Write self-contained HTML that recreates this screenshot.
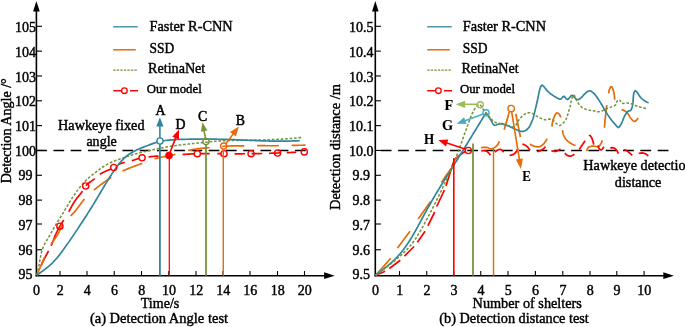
<!DOCTYPE html>
<html><head><meta charset="utf-8"><title>Detection tests</title>
<style>
html,body{margin:0;padding:0;background:#fff;}
body{width:685px;height:327px;overflow:hidden;font-family:"Liberation Serif",serif;}
svg{display:block;will-change:transform;}
svg text{font-family:"Liberation Serif",serif;fill:#000;stroke:#000;stroke-width:0.42px;}
</style></head><body>
<svg width="685" height="327" viewBox="0 0 685 327">
<rect width="685" height="327" fill="#fff"/>
<line x1="36.4" y1="276.34999999999997" x2="36.4" y2="10" stroke="#000" stroke-width="1.6"/>
<polygon points="36.4,1 33.1,11.6 39.699999999999996,11.6" fill="#000"/>
<line x1="35.6" y1="275.65" x2="324.7" y2="275.65" stroke="#000" stroke-width="1.5"/>
<polygon points="334.7,275.65 324.09999999999997,272.25 324.09999999999997,279.04999999999995" fill="#000"/>
<line x1="36.4" y1="26.3" x2="42.0" y2="26.3" stroke="#000" stroke-width="1.1"/>
<text x="25.6" y="32.2" font-size="14.0" text-anchor="middle" >105</text>
<line x1="36.4" y1="51.13" x2="42.0" y2="51.13" stroke="#000" stroke-width="1.1"/>
<text x="25.6" y="56.9" font-size="14.0" text-anchor="middle" >104</text>
<line x1="36.4" y1="75.96" x2="42.0" y2="75.96" stroke="#000" stroke-width="1.1"/>
<text x="25.6" y="81.6" font-size="14.0" text-anchor="middle" >103</text>
<line x1="36.4" y1="100.79" x2="42.0" y2="100.79" stroke="#000" stroke-width="1.1"/>
<text x="25.6" y="106.3" font-size="14.0" text-anchor="middle" >102</text>
<line x1="36.4" y1="125.62" x2="42.0" y2="125.62" stroke="#000" stroke-width="1.1"/>
<text x="25.6" y="131.0" font-size="14.0" text-anchor="middle" >101</text>
<line x1="36.4" y1="150.45" x2="42.0" y2="150.45" stroke="#000" stroke-width="1.1"/>
<text x="25.6" y="155.7" font-size="14.0" text-anchor="middle" >100</text>
<line x1="36.4" y1="175.28" x2="42.0" y2="175.28" stroke="#000" stroke-width="1.1"/>
<text x="25.6" y="180.4" font-size="14.0" text-anchor="middle" >99</text>
<line x1="36.4" y1="200.11" x2="42.0" y2="200.11" stroke="#000" stroke-width="1.1"/>
<text x="25.6" y="205.1" font-size="14.0" text-anchor="middle" >98</text>
<line x1="36.4" y1="224.0" x2="42.0" y2="224.0" stroke="#000" stroke-width="1.1"/>
<text x="25.6" y="229.8" font-size="14.0" text-anchor="middle" >97</text>
<line x1="36.4" y1="249.77" x2="42.0" y2="249.77" stroke="#000" stroke-width="1.1"/>
<text x="25.6" y="254.5" font-size="14.0" text-anchor="middle" >96</text>
<text x="25.6" y="279.2" font-size="14.0" text-anchor="middle" >95</text>
<text x="36.6" y="294.9" font-size="14.0" text-anchor="middle" >0</text>
<line x1="60" y1="275.65" x2="60" y2="271.04999999999995" stroke="#000" stroke-width="1.1"/>
<text x="60.2" y="294.9" font-size="14.0" text-anchor="middle" >2</text>
<line x1="87" y1="275.65" x2="87" y2="271.04999999999995" stroke="#000" stroke-width="1.1"/>
<text x="87.2" y="294.9" font-size="14.0" text-anchor="middle" >4</text>
<line x1="114.25" y1="275.65" x2="114.25" y2="271.04999999999995" stroke="#000" stroke-width="1.1"/>
<text x="114.45" y="294.9" font-size="14.0" text-anchor="middle" >6</text>
<line x1="141.5" y1="275.65" x2="141.5" y2="271.04999999999995" stroke="#000" stroke-width="1.1"/>
<text x="141.7" y="294.9" font-size="14.0" text-anchor="middle" >8</text>
<line x1="168.8" y1="275.65" x2="168.8" y2="271.04999999999995" stroke="#000" stroke-width="1.1"/>
<text x="169.0" y="294.9" font-size="14.0" text-anchor="middle" >10</text>
<line x1="196" y1="275.65" x2="196" y2="271.04999999999995" stroke="#000" stroke-width="1.1"/>
<text x="196.2" y="294.9" font-size="14.0" text-anchor="middle" >12</text>
<line x1="223" y1="275.65" x2="223" y2="271.04999999999995" stroke="#000" stroke-width="1.1"/>
<text x="223.2" y="294.9" font-size="14.0" text-anchor="middle" >14</text>
<line x1="250" y1="275.65" x2="250" y2="271.04999999999995" stroke="#000" stroke-width="1.1"/>
<text x="250.2" y="294.9" font-size="14.0" text-anchor="middle" >16</text>
<line x1="277.5" y1="275.65" x2="277.5" y2="271.04999999999995" stroke="#000" stroke-width="1.1"/>
<text x="277.7" y="294.9" font-size="14.0" text-anchor="middle" >18</text>
<line x1="304.5" y1="275.65" x2="304.5" y2="271.04999999999995" stroke="#000" stroke-width="1.1"/>
<text x="304.7" y="294.9" font-size="14.0" text-anchor="middle" >20</text>
<line x1="375.3" y1="276.34999999999997" x2="375.3" y2="10" stroke="#000" stroke-width="1.6"/>
<polygon points="375.3,1 372.0,11.6 378.6,11.6" fill="#000"/>
<line x1="374.5" y1="275.65" x2="663.9" y2="275.65" stroke="#000" stroke-width="1.5"/>
<polygon points="673.9,275.65 663.3,272.25 663.3,279.04999999999995" fill="#000"/>
<line x1="375.3" y1="26.3" x2="380.90000000000003" y2="26.3" stroke="#000" stroke-width="1.1"/>
<text x="361.3" y="32.2" font-size="14.0" text-anchor="middle" >10.5</text>
<line x1="375.3" y1="51.13" x2="380.90000000000003" y2="51.13" stroke="#000" stroke-width="1.1"/>
<text x="361.3" y="56.9" font-size="14.0" text-anchor="middle" >10.4</text>
<line x1="375.3" y1="75.96" x2="380.90000000000003" y2="75.96" stroke="#000" stroke-width="1.1"/>
<text x="361.3" y="81.6" font-size="14.0" text-anchor="middle" >10.3</text>
<line x1="375.3" y1="100.79" x2="380.90000000000003" y2="100.79" stroke="#000" stroke-width="1.1"/>
<text x="361.3" y="106.3" font-size="14.0" text-anchor="middle" >10.2</text>
<line x1="375.3" y1="125.62" x2="380.90000000000003" y2="125.62" stroke="#000" stroke-width="1.1"/>
<text x="361.3" y="131.0" font-size="14.0" text-anchor="middle" >10.1</text>
<line x1="375.3" y1="150.45" x2="380.90000000000003" y2="150.45" stroke="#000" stroke-width="1.1"/>
<text x="361.3" y="155.7" font-size="14.0" text-anchor="middle" >10.0</text>
<line x1="375.3" y1="175.28" x2="380.90000000000003" y2="175.28" stroke="#000" stroke-width="1.1"/>
<text x="361.3" y="180.4" font-size="14.0" text-anchor="middle" >9.9</text>
<line x1="375.3" y1="200.11" x2="380.90000000000003" y2="200.11" stroke="#000" stroke-width="1.1"/>
<text x="361.3" y="205.1" font-size="14.0" text-anchor="middle" >9.8</text>
<line x1="375.3" y1="224.0" x2="380.90000000000003" y2="224.0" stroke="#000" stroke-width="1.1"/>
<text x="361.3" y="229.8" font-size="14.0" text-anchor="middle" >9.7</text>
<line x1="375.3" y1="249.77" x2="380.90000000000003" y2="249.77" stroke="#000" stroke-width="1.1"/>
<text x="361.3" y="254.5" font-size="14.0" text-anchor="middle" >9.6</text>
<text x="361.3" y="279.2" font-size="14.0" text-anchor="middle" >9.5</text>
<text x="375.5" y="294.9" font-size="14.0" text-anchor="middle" >0</text>
<line x1="399.5" y1="275.65" x2="399.5" y2="271.04999999999995" stroke="#000" stroke-width="1.1"/>
<text x="399.7" y="294.9" font-size="14.0" text-anchor="middle" >1</text>
<line x1="426.75" y1="275.65" x2="426.75" y2="271.04999999999995" stroke="#000" stroke-width="1.1"/>
<text x="426.95" y="294.9" font-size="14.0" text-anchor="middle" >2</text>
<line x1="453.75" y1="275.65" x2="453.75" y2="271.04999999999995" stroke="#000" stroke-width="1.1"/>
<text x="453.95" y="294.9" font-size="14.0" text-anchor="middle" >3</text>
<line x1="480.75" y1="275.65" x2="480.75" y2="271.04999999999995" stroke="#000" stroke-width="1.1"/>
<text x="480.95" y="294.9" font-size="14.0" text-anchor="middle" >4</text>
<line x1="508" y1="275.65" x2="508" y2="271.04999999999995" stroke="#000" stroke-width="1.1"/>
<text x="508.2" y="294.9" font-size="14.0" text-anchor="middle" >5</text>
<line x1="535.4" y1="275.65" x2="535.4" y2="271.04999999999995" stroke="#000" stroke-width="1.1"/>
<text x="535.6" y="294.9" font-size="14.0" text-anchor="middle" >6</text>
<line x1="562.8" y1="275.65" x2="562.8" y2="271.04999999999995" stroke="#000" stroke-width="1.1"/>
<text x="563.0" y="294.9" font-size="14.0" text-anchor="middle" >7</text>
<line x1="590" y1="275.65" x2="590" y2="271.04999999999995" stroke="#000" stroke-width="1.1"/>
<text x="590.2" y="294.9" font-size="14.0" text-anchor="middle" >8</text>
<line x1="616.8" y1="275.65" x2="616.8" y2="271.04999999999995" stroke="#000" stroke-width="1.1"/>
<text x="617.0" y="294.9" font-size="14.0" text-anchor="middle" >9</text>
<line x1="644.1" y1="275.65" x2="644.1" y2="271.04999999999995" stroke="#000" stroke-width="1.1"/>
<text x="644.3000000000001" y="294.9" font-size="14.0" text-anchor="middle" >10</text>
<line x1="36.2" y1="150.45" x2="305.9" y2="150.45" stroke="#000" stroke-width="1.4" stroke-dasharray="10.7 6.55"/>
<line x1="375.3" y1="150.45" x2="668.5" y2="150.45" stroke="#000" stroke-width="1.4" stroke-dasharray="10.8 6.51" stroke-dashoffset="-5.4"/>
<line x1="113.2" y1="26.8" x2="137.8" y2="26.8" stroke="#31859C" stroke-width="1.3"/>
<line x1="113.2" y1="49.8" x2="135.8" y2="49.8" stroke="#E46C0A" stroke-width="1.5"/>
<line x1="113.2" y1="70.1" x2="137.8" y2="70.1" stroke="#77933C" stroke-width="1.4" stroke-dasharray="2.4 1.15"/>
<line x1="113.2" y1="90.7" x2="121.5" y2="90.7" stroke="#FF0000" stroke-width="1.5"/>
<line x1="130.0" y1="90.7" x2="138.0" y2="90.7" stroke="#FF0000" stroke-width="1.5"/>
<circle cx="124.4" cy="90.7" r="2.8" fill="#fff" stroke="#FF0000" stroke-width="1.3"/>
<text x="149.5" y="31.4" font-size="14.3" text-anchor="start" textLength="83.2" lengthAdjust="spacingAndGlyphs" >Faster R-CNN</text>
<text x="149.5" y="52.6" font-size="14.3" text-anchor="start" textLength="24.8" lengthAdjust="spacingAndGlyphs" >SSD</text>
<text x="148.1" y="72.5" font-size="14.3" text-anchor="start" textLength="57.2" lengthAdjust="spacingAndGlyphs" >RetinaNet</text>
<text x="146.7" y="93.0" font-size="12.8" text-anchor="start" textLength="55" lengthAdjust="spacingAndGlyphs" >Our model</text>
<line x1="427.2" y1="26.8" x2="451.8" y2="26.8" stroke="#31859C" stroke-width="1.3"/>
<line x1="427.2" y1="49.8" x2="449.8" y2="49.8" stroke="#E46C0A" stroke-width="1.5"/>
<line x1="427.2" y1="70.1" x2="451.8" y2="70.1" stroke="#77933C" stroke-width="1.4" stroke-dasharray="2.4 1.15"/>
<line x1="427.2" y1="90.7" x2="435.5" y2="90.7" stroke="#FF0000" stroke-width="1.5"/>
<line x1="444.0" y1="90.7" x2="452.0" y2="90.7" stroke="#FF0000" stroke-width="1.5"/>
<circle cx="438.4" cy="90.7" r="2.8" fill="#fff" stroke="#FF0000" stroke-width="1.3"/>
<text x="462.8" y="31.4" font-size="14.3" text-anchor="start" textLength="83.2" lengthAdjust="spacingAndGlyphs" >Faster R-CNN</text>
<text x="462.8" y="52.6" font-size="14.3" text-anchor="start" textLength="24.8" lengthAdjust="spacingAndGlyphs" >SSD</text>
<text x="461.40000000000003" y="72.5" font-size="14.3" text-anchor="start" textLength="57.2" lengthAdjust="spacingAndGlyphs" >RetinaNet</text>
<text x="460.0" y="93.0" font-size="12.8" text-anchor="start" textLength="55" lengthAdjust="spacingAndGlyphs" >Our model</text>
<path d="M36.80,275.20 L37.14,273.73 L37.47,272.26 L37.80,270.78 L38.12,269.31 L38.44,267.83 L38.75,266.36 L39.05,264.88 L39.34,263.39 L39.62,261.91 L39.88,260.42 L40.14,258.92 L40.40,257.43 L40.68,255.95 L40.98,254.47 L41.32,253.00 L41.70,251.54 L42.13,250.09 L42.62,248.66 L43.17,247.26 L43.77,245.87 L44.42,244.50 L45.12,243.16 L45.85,241.84 L46.62,240.54 L47.41,239.25 L48.20,237.96 L48.98,236.67 L49.74,235.37 L50.50,234.06 L51.24,232.74 L51.97,231.42 L52.70,230.10 L53.43,228.78 L54.17,227.46 L54.91,226.14 L55.66,224.84 L56.44,223.54 L57.23,222.25 L58.03,220.98 L58.85,219.71 L59.67,218.44 L60.49,217.17 L61.30,215.90 L62.11,214.62 L62.91,213.34 L63.69,212.05 L64.47,210.76 L65.24,209.46 L66.01,208.16 L66.78,206.86 L67.55,205.56 L68.32,204.26 L69.10,202.97 L69.89,201.68 L70.69,200.40 L71.50,199.13 L72.32,197.86 L73.15,196.59 L73.99,195.34 L74.84,194.09 L75.70,192.85 L76.58,191.62 L77.48,190.40 L78.38,189.19 L79.30,187.99 L80.24,186.81 L81.20,185.63 L82.17,184.47 L83.17,183.33 L84.18,182.21 L85.22,181.11 L86.28,180.04 L87.37,179.00 L88.49,177.98 L89.63,177.00 L90.79,176.04 L91.97,175.10 L93.16,174.17 L94.37,173.26 L95.58,172.35 L96.80,171.45 L98.01,170.54 L99.22,169.64 L100.44,168.74 L101.67,167.85 L102.91,166.99 L104.16,166.16 L105.44,165.36 L106.74,164.60 L108.06,163.89 L109.41,163.21 L110.77,162.57 L112.15,161.96 L113.55,161.38 L114.96,160.82 L116.38,160.28 L117.80,159.76 L119.24,159.25 L120.67,158.75 L122.11,158.26 L123.54,157.77 L124.97,157.28 L126.41,156.80 L127.84,156.33 L129.28,155.86 L130.72,155.40 L132.16,154.95 L133.60,154.51 L135.04,154.08 L136.49,153.66 L137.94,153.26 L139.40,152.87 L140.86,152.49 L142.32,152.13 L143.79,151.77 L145.26,151.43 L146.73,151.09 L148.21,150.76 L149.68,150.43 L151.16,150.11 L152.64,149.80 L154.12,149.49 L155.60,149.17 L157.07,148.86 L158.55,148.56 L160.03,148.25 L161.51,147.96 L163.00,147.66 L164.48,147.38 L165.96,147.10 L167.45,146.83 L168.93,146.58 L170.42,146.33 L171.91,146.10 L173.41,145.88 L174.90,145.67 L176.40,145.47 L177.90,145.27 L179.39,145.09 L180.89,144.91 L182.39,144.74 L183.89,144.57 L185.40,144.40 L186.90,144.24 L188.40,144.07 L189.90,143.91 L191.41,143.75 L192.91,143.58 L194.41,143.42 L195.91,143.25 L197.41,143.09 L198.92,142.93 L200.42,142.77 L201.92,142.61 L203.42,142.45 L204.93,142.30 L206.43,142.15 L207.93,142.00 L209.43,141.86 L210.94,141.72 L212.44,141.59 L213.95,141.46 L215.45,141.34 L216.96,141.23 L218.46,141.12 L219.97,141.02 L221.47,140.93 L222.98,140.85 L224.49,140.77 L225.99,140.70 L227.50,140.64 L229.01,140.59 L230.52,140.54 L232.03,140.50 L233.54,140.46 L235.05,140.42 L236.56,140.39 L238.07,140.37 L239.58,140.34 L241.09,140.32 L242.60,140.30 L244.11,140.28 L245.62,140.26 L247.13,140.24 L248.64,140.22 L250.15,140.20 L251.66,140.17 L253.17,140.15 L254.68,140.12 L256.19,140.09 L257.70,140.06 L259.21,140.03 L260.72,139.99 L262.23,139.95 L263.74,139.91 L265.25,139.86 L266.76,139.81 L268.27,139.76 L269.78,139.70 L271.28,139.65 L272.79,139.58 L274.30,139.52 L275.81,139.44 L277.32,139.37 L278.83,139.29 L280.33,139.20 L281.84,139.12 L283.35,139.02 L284.85,138.92 L286.36,138.82 L287.87,138.71 L289.37,138.59 L290.88,138.47 L292.38,138.34 L293.89,138.20 L295.39,138.06 L296.89,137.91 L298.39,137.76 L299.90,137.61 L301.40,137.46 L302.90,137.30" fill="none" stroke="#77933C" stroke-width="1.55" stroke-linecap="butt" stroke-linejoin="round" stroke-dasharray="2.7 1.75" stroke-dashoffset="0"/>
<path d="M41.12,265.51 L41.29,265.15 L41.46,264.79 L41.64,264.43 L41.81,264.07 L41.99,263.71 L42.16,263.35 L42.33,262.99 L42.51,262.63 L42.68,262.26 L42.86,261.90 L43.04,261.54 L43.21,261.18 L43.39,260.82 L43.57,260.47 L43.74,260.11 L43.92,259.75 L44.10,259.39 L44.28,259.03 L44.46,258.67 L44.64,258.32 L44.83,257.96 L45.01,257.60 L45.19,257.25 L45.38,256.89 L45.56,256.54 L45.75,256.18 L45.93,255.83 L46.12,255.47 L46.30,255.12 L46.49,254.76 L46.68,254.41 L46.87,254.05 L47.05,253.70 L47.24,253.34 L47.43,252.99 L47.62,252.64 L47.81,252.28 L47.99,251.93 L48.18,251.57 L48.37,251.22 L48.56,250.87" fill="none" stroke="#FF0000" stroke-width="1.7"/>
<path d="M51.11,245.87 L51.27,245.50 L51.44,245.14 L51.60,244.77 L51.76,244.40 L51.92,244.04 L52.07,243.67 L52.22,243.30 L52.37,242.92 L52.52,242.55 L52.67,242.18 L52.81,241.80 L52.95,241.43 L53.10,241.05 L53.24,240.68 L53.38,240.30 L53.52,239.93 L53.66,239.55 L53.80,239.18 L53.94,238.80 L54.08,238.43 L54.22,238.05 L54.36,237.67 L54.50,237.30 L54.65,236.93 L54.79,236.55 L54.94,236.18 L55.09,235.81 L55.24,235.44 L55.40,235.07 L55.55,234.70 L55.71,234.33 L55.87,233.96 L56.04,233.60 L56.20,233.23 L56.37,232.87 L56.54,232.50 L56.71,232.14 L56.89,231.78 L57.06,231.42 L57.24,231.06 L57.42,230.70 L57.61,230.35 L57.79,229.99 L57.98,229.63 L58.17,229.28 L58.36,228.93 L58.55,228.57 L58.74,228.22 L58.94,227.87 L59.13,227.52 L59.33,227.17 L59.53,226.83 L59.73,226.48 L59.94,226.13 L60.14,225.79 L60.35,225.45 L60.56,225.10 L60.77,224.76 L60.98,224.42 L61.19,224.08 L61.40,223.74 L61.61,223.40 L61.83,223.06 L62.04,222.72 L62.26,222.38 L62.47,222.05 L62.69,221.71 L62.90,221.37 L63.12,221.03 L63.33,220.69 L63.55,220.36 L63.76,220.02" fill="none" stroke="#FF0000" stroke-width="1.7"/>
<path d="M68.72,211.78 L68.92,211.43 L69.11,211.07 L69.31,210.72 L69.50,210.37 L69.69,210.02 L69.88,209.66 L70.08,209.31 L70.27,208.96 L70.46,208.60 L70.65,208.25 L70.84,207.89 L71.03,207.54 L71.23,207.19 L71.42,206.83 L71.61,206.48 L71.81,206.13 L72.00,205.78 L72.20,205.43 L72.39,205.08 L72.59,204.73 L72.79,204.38 L72.99,204.04 L73.20,203.69 L73.40,203.35 L73.61,203.00 L73.82,202.66 L74.03,202.32 L74.24,201.98 L74.46,201.65 L74.67,201.31 L74.89,200.98 L75.12,200.65 L75.34,200.32 L75.57,199.99 L75.81,199.67 L76.04,199.34 L76.28,199.02 L76.52,198.71 L76.77,198.39 L77.01,198.07 L77.26,197.76 L77.51,197.45 L77.76,197.14 L78.02,196.83 L78.27,196.52 L78.53,196.21 L78.78,195.90 L79.04,195.59 L79.29,195.28 L79.55,194.97 L79.80,194.66 L80.05,194.35 L80.30,194.03 L80.55,193.72 L80.79,193.40 L81.04,193.08 L81.28,192.76 L81.52,192.43 L81.75,192.11 L81.98,191.78 L82.21,191.45 L82.43,191.11" fill="none" stroke="#FF0000" stroke-width="1.7"/>
<path d="M85.92,185.74 L86.17,185.44 L86.44,185.15 L86.71,184.86 L86.99,184.58 L87.28,184.31 L87.57,184.04 L87.87,183.78 L88.17,183.52 L88.48,183.27 L88.79,183.02 L89.11,182.77 L89.43,182.53 L89.75,182.29 L90.07,182.05 L90.40,181.81 L90.73,181.58 L91.06,181.34 L91.39,181.11 L91.73,180.87 L92.06,180.64 L92.39,180.40 L92.72,180.17 L93.05,179.93 L93.38,179.69 L93.71,179.45 L94.03,179.20 L94.35,178.95 L94.67,178.70" fill="none" stroke="#FF0000" stroke-width="1.7"/>
<path d="M99.90,174.33 L100.22,174.11 L100.55,173.89 L100.89,173.67 L101.23,173.47 L101.57,173.26 L101.92,173.07 L102.27,172.88 L102.62,172.69 L102.97,172.51 L103.33,172.33 L103.69,172.15 L104.06,171.98 L104.42,171.81 L104.79,171.65 L105.16,171.48 L105.53,171.32 L105.90,171.16 L106.27,171.00 L106.64,170.84 L107.01,170.68 L107.39,170.53 L107.76,170.37 L108.13,170.21 L108.50,170.05 L108.88,169.89 L109.25,169.73 L109.62,169.57 L109.98,169.41 L110.35,169.24 L110.72,169.07" fill="none" stroke="#FF0000" stroke-width="1.7"/>
<path d="M118.32,164.63 L118.68,164.45 L119.04,164.27 L119.40,164.10 L119.77,163.94 L120.14,163.79 L120.51,163.64 L120.88,163.49 L121.26,163.36 L121.64,163.23 L122.02,163.10 L122.41,162.98 L122.79,162.86 L123.18,162.75 L123.57,162.64 L123.96,162.54 L124.35,162.44 L124.74,162.34" fill="none" stroke="#FF0000" stroke-width="1.7"/>
<path d="M131.77,160.69 L132.15,160.58 L132.53,160.46 L132.91,160.34 L133.29,160.21 L133.67,160.09 L134.05,159.96 L134.43,159.83 L134.81,159.70 L135.19,159.57 L135.57,159.44 L135.95,159.31 L136.33,159.19 L136.72,159.07 L137.10,158.95 L137.48,158.83 L137.87,158.72 L138.25,158.61 L138.64,158.51 L139.03,158.42" fill="none" stroke="#FF0000" stroke-width="1.7"/>
<path d="M148.52,156.88 L148.92,156.84 L149.32,156.79 L149.72,156.75 L150.12,156.71 L150.51,156.67 L150.91,156.63 L151.31,156.59 L151.71,156.55 L152.11,156.51 L152.51,156.48 L152.91,156.44 L153.31,156.41 L153.71,156.37 L154.11,156.34 L154.50,156.31 L154.90,156.28 L155.30,156.24 L155.70,156.21 L156.10,156.18 L156.50,156.16 L156.90,156.13 L157.30,156.10 L157.70,156.07 L158.10,156.04 L158.50,156.02" fill="none" stroke="#FF0000" stroke-width="1.7"/>
<path d="M182.53,154.49 L182.93,154.46 L183.33,154.44 L183.73,154.41 L184.13,154.38 L184.53,154.36 L184.93,154.33 L185.33,154.31 L185.73,154.28 L186.13,154.25 L186.53,154.23 L186.93,154.20 L187.33,154.18 L187.73,154.16 L188.12,154.13 L188.52,154.11 L188.92,154.08 L189.32,154.06 L189.72,154.04 L190.12,154.02 L190.52,154.00 L190.92,153.97 L191.32,153.95 L191.72,153.93 L192.12,153.91 L192.52,153.89 L192.92,153.87 L193.32,153.86 L193.72,153.84 L194.12,153.82" fill="none" stroke="#FF0000" stroke-width="1.7"/>
<path d="M200.93,153.61 L201.33,153.60 L201.73,153.59 L202.13,153.59 L202.53,153.58 L202.93,153.58 L203.33,153.57 L203.73,153.57 L204.13,153.56 L204.53,153.56 L204.93,153.56 L205.34,153.56 L205.74,153.55 L206.14,153.55 L206.54,153.55 L206.94,153.55 L207.34,153.55 L207.74,153.55 L208.14,153.55 L208.54,153.55 L208.94,153.55 L209.34,153.55 L209.74,153.55" fill="none" stroke="#FF0000" stroke-width="1.7"/>
<path d="M217.36,153.62 L217.76,153.62 L218.16,153.63 L218.56,153.63 L218.97,153.64 L219.37,153.64 L219.77,153.65 L220.17,153.65 L220.57,153.66 L220.97,153.66" fill="none" stroke="#FF0000" stroke-width="1.7"/>
<path d="M234.60,153.78 L235.00,153.78 L235.40,153.78 L235.80,153.78 L236.20,153.78 L236.60,153.78 L237.00,153.78 L237.40,153.78 L237.81,153.79 L238.21,153.79 L238.61,153.78 L239.01,153.78 L239.41,153.78 L239.81,153.78 L240.21,153.78 L240.61,153.78 L241.01,153.78 L241.41,153.78 L241.81,153.78 L242.21,153.78 L242.61,153.78 L243.02,153.77 L243.42,153.77 L243.82,153.77 L244.22,153.77 L244.62,153.76 L245.02,153.76" fill="none" stroke="#FF0000" stroke-width="1.7"/>
<path d="M251.43,153.70 L251.83,153.69 L252.23,153.68 L252.63,153.68 L253.03,153.67 L253.43,153.66 L253.83,153.66 L254.23,153.65 L254.64,153.64 L255.04,153.64 L255.44,153.63 L255.84,153.62 L256.24,153.61 L256.64,153.61 L257.04,153.60 L257.44,153.59 L257.84,153.58 L258.24,153.57 L258.64,153.57 L259.04,153.56 L259.44,153.55 L259.84,153.54 L260.24,153.53 L260.65,153.52 L261.05,153.51 L261.45,153.50 L261.85,153.49 L262.25,153.48" fill="none" stroke="#FF0000" stroke-width="1.7"/>
<path d="M269.06,153.29 L269.46,153.28 L269.86,153.26 L270.26,153.25 L270.66,153.24 L271.06,153.23 L271.46,153.21 L271.86,153.20 L272.26,153.19 L272.66,153.17 L273.06,153.16 L273.47,153.15 L273.87,153.13 L274.27,153.12 L274.67,153.10 L275.07,153.09 L275.47,153.08 L275.87,153.06 L276.27,153.05 L276.67,153.03 L277.07,153.02 L277.47,153.00 L277.87,152.99 L278.27,152.98 L278.67,152.96 L279.07,152.95 L279.47,152.93 L279.87,152.92 L280.27,152.90 L280.68,152.89" fill="none" stroke="#FF0000" stroke-width="1.7"/>
<path d="M286.68,152.65 L287.08,152.63 L287.48,152.62 L287.88,152.60 L288.28,152.58 L288.68,152.57 L289.08,152.55 L289.49,152.54 L289.89,152.52 L290.29,152.50 L290.69,152.49 L291.09,152.47 L291.49,152.45 L291.89,152.43 L292.29,152.42 L292.69,152.40 L293.09,152.38 L293.49,152.37 L293.89,152.35 L294.29,152.33 L294.69,152.32 L295.09,152.30 L295.49,152.28 L295.89,152.26 L296.29,152.25" fill="none" stroke="#FF0000" stroke-width="1.7"/>
<path d="M36.80,275.20 L36.96,274.83 L37.11,274.46 L37.27,274.10 L37.43,273.73 L37.58,273.36 L37.74,272.99 L37.90,272.62 L38.06,272.25 L38.21,271.89 L38.37,271.52 L38.53,271.15 L38.68,270.78 L38.84,270.41 L39.00,270.04 L39.16,269.68 L39.31,269.31 L39.47,268.94 L39.63,268.57 L39.79,268.20 L39.94,267.83 L40.10,267.47 L40.26,267.10 L40.42,266.73 L40.57,266.36 L40.73,265.99 L40.89,265.63 L41.05,265.26 L41.21,264.89 L41.37,264.52 L41.52,264.15 L41.68,263.79 L41.84,263.42 L42.00,263.05 L42.16,262.68 L42.32,262.31 L42.48,261.95 L42.64,261.58 L42.80,261.21 L42.95,260.84 L43.11,260.47 L43.27,260.11 L43.43,259.74 L43.59,259.37 L43.75,259.00 L43.92,258.64 L44.08,258.27 L44.24,257.90 L44.40,257.53 L44.56,257.17" fill="none" stroke="#E46C0A" stroke-width="1.7"/>
<path d="M50.91,244.67 L51.12,244.33 L51.34,243.99 L51.56,243.65 L51.78,243.31 L52.00,242.98 L52.22,242.64 L52.44,242.31 L52.67,241.97 L52.89,241.64 L53.12,241.31 L53.35,240.97 L53.58,240.64 L53.81,240.31 L54.03,239.98 L54.26,239.64 L54.49,239.31 L54.72,238.98 L54.94,238.65 L55.17,238.31 L55.40,237.98 L55.62,237.65 L55.84,237.31 L56.07,236.98 L56.29,236.64 L56.50,236.30 L56.72,235.96 L56.94,235.63 L57.15,235.29 L57.36,234.94 L57.56,234.60 L57.77,234.26 L57.97,233.91 L58.17,233.56 L58.36,233.21 L58.56,232.86 L58.75,232.51 L58.93,232.15 L59.11,231.80 L59.29,231.44 L59.46,231.08 L59.63,230.71 L59.79,230.35 L59.95,229.98 L60.10,229.61 L60.25,229.24 L60.40,228.86 L60.53,228.48 L60.67,228.10 L60.79,227.71 L60.92,227.32 L61.04,226.94 L61.16,226.55 L61.27,226.16 L61.40,225.77 L61.52,225.39 L61.65,225.01 L61.79,224.64 L61.94,224.27 L62.10,223.91 L62.27,223.56 L62.45,223.22" fill="none" stroke="#E46C0A" stroke-width="1.7"/>
<path d="M70.44,215.88 L70.76,215.62 L71.06,215.35 L71.37,215.08 L71.67,214.80 L71.97,214.52 L72.26,214.24 L72.55,213.96 L72.83,213.67 L73.11,213.38 L73.39,213.09 L73.67,212.79 L73.94,212.50 L74.21,212.20 L74.48,211.90 L74.74,211.59 L75.00,211.29 L75.26,210.98 L75.52,210.67 L75.77,210.36 L76.02,210.05 L76.27,209.74 L76.52,209.42 L76.77,209.11 L77.01,208.79 L77.26,208.47 L77.50,208.16 L77.74,207.84 L77.98,207.52 L78.22,207.19 L78.46,206.87 L78.70,206.55 L78.94,206.23 L79.17,205.91 L79.41,205.58 L79.65,205.26 L79.88,204.94 L80.12,204.62 L80.36,204.29 L80.60,203.97 L80.83,203.65 L81.07,203.33 L81.31,203.01 L81.55,202.69 L81.79,202.37 L82.04,202.06 L82.28,201.74 L82.52,201.42 L82.77,201.11 L83.02,200.80 L83.27,200.49 L83.52,200.18 L83.77,199.87 L84.03,199.56 L84.29,199.26 L84.55,198.96" fill="none" stroke="#E46C0A" stroke-width="1.7"/>
<path d="M93.87,190.16 L94.18,189.90 L94.49,189.65 L94.80,189.39 L95.11,189.14 L95.42,188.88 L95.73,188.63 L96.05,188.38 L96.36,188.12 L96.67,187.87 L96.99,187.62 L97.30,187.37 L97.61,187.12 L97.93,186.87 L98.24,186.63 L98.56,186.38 L98.88,186.13 L99.19,185.89 L99.51,185.64 L99.83,185.40 L100.15,185.15 L100.47,184.91 L100.79,184.67 L101.11,184.43 L101.43,184.19 L101.75,183.95 L102.07,183.71 L102.39,183.47 L102.71,183.23 L103.04,183.00 L103.36,182.76 L103.69,182.53 L104.01,182.29 L104.34,182.06 L104.66,181.83 L104.99,181.60 L105.32,181.37 L105.64,181.14 L105.97,180.91 L106.30,180.68 L106.63,180.45 L106.96,180.22 L107.29,180.00 L107.62,179.77 L107.95,179.55 L108.29,179.33 L108.62,179.10 L108.95,178.88 L109.29,178.66 L109.62,178.44 L109.96,178.22 L110.30,178.01 L110.63,177.79 L110.97,177.57 L111.31,177.36" fill="none" stroke="#E46C0A" stroke-width="1.7"/>
<path d="M122.50,171.11 L122.86,170.93 L123.22,170.77 L123.59,170.60 L123.95,170.43 L124.32,170.27 L124.68,170.11 L125.05,169.94 L125.41,169.78 L125.78,169.63 L126.15,169.47 L126.52,169.31 L126.89,169.16 L127.26,169.01 L127.63,168.85 L128.00,168.70 L128.37,168.55 L128.74,168.40 L129.11,168.26 L129.48,168.11 L129.85,167.96 L130.23,167.82 L130.60,167.67 L130.98,167.53 L131.35,167.38 L131.72,167.24 L132.10,167.10 L132.47,166.96 L132.85,166.82 L133.22,166.68 L133.60,166.54 L133.98,166.40 L134.35,166.26 L134.73,166.12 L135.10,165.98 L135.48,165.84 L135.86,165.70 L136.23,165.57 L136.61,165.43 L136.99,165.29 L137.36,165.15 L137.74,165.01 L138.12,164.87 L138.49,164.74 L138.87,164.60 L139.25,164.46 L139.62,164.32 L140.00,164.18 L140.38,164.04 L140.75,163.90 L141.13,163.76 L141.51,163.62 L141.88,163.47 L142.26,163.33" fill="none" stroke="#E46C0A" stroke-width="1.7"/>
<path d="M154.68,158.82 L155.07,158.71 L155.45,158.60 L155.84,158.50 L156.22,158.39 L156.61,158.29 L156.99,158.19 L157.38,158.10 L157.77,158.00 L158.16,157.91 L158.55,157.82 L158.94,157.73 L159.33,157.65 L159.72,157.56 L160.11,157.48 L160.50,157.39 L160.90,157.31 L161.29,157.23 L161.68,157.15 L162.07,157.07 L162.47,156.99 L162.86,156.92 L163.25,156.84 L163.65,156.77 L164.04,156.69 L164.44,156.62 L164.83,156.54 L165.22,156.47 L165.62,156.40 L166.01,156.32 L166.41,156.25 L166.80,156.17 L167.20,156.10 L167.59,156.03 L167.99,155.95 L168.38,155.88 L168.78,155.80 L169.17,155.72 L169.56,155.65 L169.96,155.57 L170.35,155.49 L170.74,155.41 L171.14,155.33 L171.53,155.25 L171.92,155.17 L172.32,155.08 L172.71,154.99 L173.10,154.91 L173.49,154.82 L173.88,154.73 L174.27,154.63 L174.66,154.54 L175.05,154.44 L175.44,154.34" fill="none" stroke="#E46C0A" stroke-width="1.7"/>
<path d="M188.12,150.58 L188.50,150.47 L188.89,150.37 L189.28,150.28 L189.67,150.18 L190.05,150.09 L190.44,150.00 L190.83,149.91 L191.22,149.83 L191.61,149.74 L192.00,149.66 L192.40,149.59 L192.79,149.51 L193.18,149.44 L193.57,149.37 L193.97,149.30 L194.36,149.24 L194.76,149.17 L195.15,149.11 L195.55,149.05 L195.94,148.99 L196.34,148.94 L196.74,148.88 L197.13,148.83 L197.53,148.78 L197.93,148.73 L198.33,148.68 L198.72,148.63 L199.12,148.59 L199.52,148.54 L199.92,148.50 L200.32,148.46 L200.72,148.41 L201.12,148.37 L201.52,148.34 L201.92,148.30 L202.32,148.26 L202.72,148.22 L203.12,148.18 L203.52,148.15 L203.92,148.11 L204.32,148.08 L204.72,148.04 L205.12,148.01 L205.52,147.97 L205.92,147.94 L206.32,147.90 L206.72,147.87 L207.13,147.84 L207.53,147.80 L207.93,147.77 L208.33,147.73 L208.73,147.70 L209.13,147.66 L209.53,147.62" fill="none" stroke="#E46C0A" stroke-width="1.7"/>
<path d="M222.29,146.40 L222.69,146.37 L223.09,146.34 L223.49,146.31 L223.89,146.29 L224.29,146.26 L224.69,146.24 L225.09,146.21 L225.49,146.19 L225.88,146.16 L226.28,146.14 L226.68,146.12 L227.08,146.10 L227.48,146.09 L227.88,146.07 L228.28,146.05 L228.68,146.03 L229.08,146.02 L229.48,146.01 L229.88,145.99 L230.28,145.98 L230.68,145.97 L231.09,145.96 L231.49,145.94 L231.89,145.93 L232.29,145.93 L232.69,145.92 L233.09,145.91 L233.49,145.90 L233.89,145.89 L234.29,145.89 L234.69,145.88 L235.09,145.87 L235.49,145.87 L235.89,145.86 L236.29,145.86 L236.70,145.85 L237.10,145.85 L237.50,145.85 L237.90,145.84 L238.30,145.84 L238.70,145.84 L239.10,145.83 L239.50,145.83 L239.90,145.83 L240.30,145.83 L240.70,145.82 L241.11,145.82 L241.51,145.82 L241.91,145.82 L242.31,145.81 L242.71,145.81 L243.11,145.81 L243.51,145.81 L243.91,145.80 L244.31,145.80" fill="none" stroke="#E46C0A" stroke-width="1.7"/>
<path d="M257.13,145.70 L257.53,145.70 L257.93,145.70 L258.33,145.70 L258.73,145.70 L259.13,145.70 L259.54,145.70 L259.94,145.70 L260.34,145.70 L260.74,145.70 L261.14,145.70 L261.54,145.70 L261.94,145.71 L262.34,145.71 L262.74,145.71 L263.14,145.71 L263.54,145.71 L263.94,145.72 L264.34,145.72 L264.74,145.72 L265.14,145.72 L265.54,145.72 L265.95,145.73 L266.35,145.73 L266.75,145.73 L267.15,145.73 L267.55,145.73 L267.95,145.74 L268.35,145.74 L268.75,145.74 L269.15,145.74 L269.55,145.74 L269.95,145.74 L270.35,145.74 L270.75,145.75 L271.15,145.75 L271.55,145.75 L271.95,145.75 L272.36,145.75 L272.76,145.75 L273.16,145.75 L273.56,145.75 L273.96,145.74 L274.36,145.74 L274.76,145.74 L275.16,145.74 L275.56,145.74 L275.96,145.73 L276.36,145.73 L276.76,145.73 L277.16,145.72 L277.56,145.72 L277.96,145.71 L278.36,145.71 L278.76,145.70" fill="none" stroke="#E46C0A" stroke-width="1.7"/>
<path d="M291.58,145.39 L291.98,145.38 L292.38,145.37 L292.78,145.37 L293.18,145.36 L293.58,145.35 L293.98,145.34 L294.38,145.34 L294.78,145.33 L295.18,145.32 L295.59,145.32 L295.99,145.31 L296.39,145.30 L296.79,145.30 L297.19,145.29 L297.59,145.29 L297.99,145.28 L298.39,145.28 L298.79,145.27 L299.19,145.27 L299.59,145.26 L299.99,145.26 L300.39,145.25 L300.79,145.25 L301.19,145.24 L301.59,145.24 L301.99,145.23 L302.40,145.23 L302.80,145.23 L303.20,145.22 L303.60,145.22 L304.00,145.22 L304.40,145.21 L304.80,145.21 L305.20,145.20 L305.60,145.20" fill="none" stroke="#E46C0A" stroke-width="1.7"/>
<path d="M36.80,275.20 L38.04,274.32 L39.29,273.44 L40.52,272.56 L41.76,271.67 L42.98,270.78 L44.20,269.87 L45.40,268.95 L46.59,268.01 L47.76,267.06 L48.92,266.09 L50.05,265.10 L51.17,264.09 L52.26,263.05 L53.32,261.99 L54.36,260.90 L55.38,259.79 L56.38,258.66 L57.36,257.51 L58.33,256.34 L59.28,255.16 L60.21,253.96 L61.13,252.76 L62.04,251.54 L62.94,250.31 L63.83,249.08 L64.71,247.84 L65.59,246.60 L66.46,245.36 L67.33,244.11 L68.20,242.87 L69.06,241.63 L69.92,240.38 L70.78,239.13 L71.63,237.88 L72.48,236.63 L73.33,235.38 L74.18,234.13 L75.02,232.88 L75.86,231.62 L76.70,230.37 L77.54,229.11 L78.37,227.85 L79.21,226.59 L80.04,225.33 L80.87,224.07 L81.70,222.81 L82.52,221.54 L83.35,220.27 L84.17,219.00 L84.99,217.73 L85.81,216.46 L86.62,215.19 L87.44,213.91 L88.24,212.63 L89.05,211.35 L89.86,210.07 L90.66,208.79 L91.46,207.50 L92.25,206.21 L93.04,204.92 L93.83,203.63 L94.61,202.34 L95.40,201.04 L96.17,199.74 L96.95,198.45 L97.73,197.15 L98.50,195.85 L99.27,194.55 L100.05,193.25 L100.82,191.95 L101.59,190.65 L102.37,189.35 L103.14,188.05 L103.92,186.75 L104.69,185.45 L105.47,184.16 L106.26,182.87 L107.04,181.57 L107.83,180.29 L108.62,179.00 L109.42,177.72 L110.23,176.44 L111.04,175.17 L111.86,173.90 L112.69,172.63 L113.53,171.38 L114.39,170.13 L115.26,168.89 L116.15,167.66 L117.05,166.44 L117.97,165.22 L118.91,164.03 L119.87,162.85 L120.86,161.69 L121.88,160.56 L122.92,159.46 L123.99,158.39 L125.10,157.37 L126.25,156.38 L127.43,155.45 L128.65,154.56 L129.91,153.71 L131.19,152.91 L132.50,152.15 L133.84,151.43 L135.19,150.73 L136.56,150.07 L137.94,149.44 L139.32,148.83 L140.72,148.24 L142.12,147.66 L143.52,147.10 L144.93,146.56 L146.34,146.02 L147.76,145.48 L149.17,144.95 L150.59,144.42 L152.02,143.90 L153.44,143.39 L154.88,142.90 L156.32,142.45 L157.77,142.02 L159.23,141.64 L160.70,141.30 L162.18,141.00 L163.68,140.75 L165.17,140.53 L166.68,140.34 L168.18,140.17 L169.69,140.03 L171.20,139.90 L172.71,139.78 L174.22,139.68 L175.73,139.59 L177.24,139.51 L178.75,139.45 L180.26,139.39 L181.77,139.35 L183.28,139.31 L184.79,139.28 L186.31,139.26 L187.82,139.24 L189.33,139.22 L190.85,139.21 L192.36,139.20 L193.87,139.18 L195.38,139.17 L196.90,139.15 L198.41,139.14 L199.92,139.12 L201.43,139.11 L202.94,139.10 L204.46,139.10 L205.97,139.10 L207.48,139.10 L208.99,139.10 L210.51,139.12 L212.02,139.13 L213.53,139.15 L215.04,139.17 L216.56,139.20 L218.07,139.23 L219.58,139.26 L221.09,139.30 L222.60,139.34 L224.12,139.38 L225.63,139.42 L227.14,139.46 L228.65,139.51 L230.16,139.55 L231.67,139.60 L233.19,139.65 L234.70,139.70 L236.21,139.76 L237.72,139.81 L239.23,139.87 L240.74,139.92 L242.25,139.98 L243.77,140.04 L245.28,140.10 L246.79,140.16 L248.30,140.23 L249.81,140.29 L251.32,140.36 L252.83,140.42 L254.34,140.49 L255.86,140.55 L257.37,140.62 L258.88,140.68 L260.39,140.75 L261.90,140.81 L263.41,140.86 L264.93,140.92 L266.44,140.97 L267.95,141.02 L269.46,141.06 L270.97,141.10 L272.49,141.13 L274.00,141.16 L275.51,141.18 L277.02,141.19 L278.53,141.20 L280.05,141.20 L281.56,141.19 L283.07,141.18 L284.58,141.15 L286.09,141.13 L287.60,141.09 L289.12,141.05 L290.63,141.01 L292.14,140.97 L293.65,140.92 L295.16,140.86 L296.68,140.81 L298.19,140.76 L299.70,140.70" fill="none" stroke="#31859C" stroke-width="1.7" stroke-linecap="butt" stroke-linejoin="round"/>
<circle cx="59.9" cy="226.2" r="3.1" fill="none" stroke="#FF0000" stroke-width="1.4"/>
<circle cx="85.7" cy="186" r="3.1" fill="none" stroke="#FF0000" stroke-width="1.4"/>
<circle cx="113.7" cy="167.5" r="3.1" fill="none" stroke="#FF0000" stroke-width="1.4"/>
<circle cx="142.1" cy="157.8" r="3.1" fill="none" stroke="#FF0000" stroke-width="1.4"/>
<circle cx="169.0" cy="155.4" r="3.75" fill="#FF0000"/>
<circle cx="197.3" cy="153.7" r="3.1" fill="none" stroke="#FF0000" stroke-width="1.4"/>
<circle cx="224" cy="153.7" r="3.1" fill="none" stroke="#FF0000" stroke-width="1.4"/>
<circle cx="251.1" cy="153.7" r="3.1" fill="none" stroke="#FF0000" stroke-width="1.4"/>
<circle cx="277.6" cy="153" r="3.1" fill="none" stroke="#FF0000" stroke-width="1.4"/>
<circle cx="304.3" cy="151.9" r="3.1" fill="none" stroke="#FF0000" stroke-width="1.4"/>
<line x1="159.9" y1="144.2" x2="159.9" y2="275.65" stroke="#31859C" stroke-width="1.8"/>
<line x1="169.3" y1="156" x2="169.3" y2="275.65" stroke="#FF0000" stroke-width="1.25"/>
<line x1="206" y1="144.7" x2="206" y2="275.65" stroke="#77933C" stroke-width="1.8"/>
<line x1="223.3" y1="149.2" x2="223.3" y2="275.65" stroke="#E46C0A" stroke-width="1.45"/>
<line x1="159.9" y1="138" x2="159.9" y2="125.5" stroke="#31859C" stroke-width="1.6"/><polygon points="159.9,117.2 163.5,126.5 156.3,126.5" fill="#31859C"/>
<line x1="169.8" y1="153" x2="176.0" y2="137.1" stroke="#FF0000" stroke-width="1.6"/><polygon points="179.0,129.4 179.0,139.4 172.3,136.8" fill="#FF0000"/>
<line x1="205.6" y1="138.6" x2="203.9" y2="130.1" stroke="#77933C" stroke-width="1.6"/><polygon points="202.4,122.2 207.4,130.4 200.9,131.7" fill="#77933C"/>
<line x1="225.8" y1="143.7" x2="233.6" y2="133.5" stroke="#E46C0A" stroke-width="1.6"/><polygon points="238.9,126.5 235.9,136.5 230.0,132.1" fill="#E46C0A"/>
<circle cx="160.0" cy="141.0" r="3.1" fill="#fff" stroke="#31859C" stroke-width="1.4"/>
<circle cx="206" cy="141.6" r="3.1" fill="none" stroke="#77933C" stroke-width="1.4"/>
<circle cx="223.7" cy="146.1" r="3.1" fill="none" stroke="#E46C0A" stroke-width="1.4"/>
<text x="160.6" y="115.1" font-size="13.8" text-anchor="middle" style="stroke-width:0.5px">A</text>
<text x="180.6" y="128.8" font-size="13.8" text-anchor="middle" style="stroke-width:0.5px">D</text>
<text x="202.6" y="120.9" font-size="13.8" text-anchor="middle" style="stroke-width:0.5px">C</text>
<text x="240.3" y="125.3" font-size="13.8" text-anchor="middle" style="stroke-width:0.5px">B</text>
<text x="101.3" y="129.6" font-size="14.2" text-anchor="middle" textLength="86.5" lengthAdjust="spacingAndGlyphs" >Hawkeye fixed</text>
<text x="101.6" y="146.3" font-size="14.2" text-anchor="middle" textLength="30.4" lengthAdjust="spacingAndGlyphs" >angle</text>
<text x="160" y="307.8" font-size="14.2" text-anchor="middle" textLength="38.6" lengthAdjust="spacingAndGlyphs" >Time/s</text>
<text x="159" y="323.4" font-size="14.2" text-anchor="middle" textLength="138.2" lengthAdjust="spacingAndGlyphs" >(a) Detection Angle test</text>
<text transform="translate(11.0,130.8) rotate(-90)" font-size="14.2" text-anchor="middle" textLength="105" lengthAdjust="spacingAndGlyphs">Detection Angle /°</text>
<path d="M375.6,275.2 L385.2,271.3" fill="none" stroke="#FF0000" stroke-width="1.7" stroke-linecap="butt" stroke-linejoin="round"/>
<path d="M389.3,268.5 L400.3,260.2" fill="none" stroke="#FF0000" stroke-width="1.7" stroke-linecap="butt" stroke-linejoin="round"/>
<path d="M404.4,256.1 L414.1,246.5" fill="none" stroke="#FF0000" stroke-width="1.7" stroke-linecap="butt" stroke-linejoin="round"/>
<path d="M417.4,242.3 L425.1,231.3" fill="none" stroke="#FF0000" stroke-width="1.7" stroke-linecap="butt" stroke-linejoin="round"/>
<path d="M427.9,225.8 L434.7,212.0" fill="none" stroke="#FF0000" stroke-width="1.7" stroke-linecap="butt" stroke-linejoin="round"/>
<path d="M436.7,206.5 L444.4,190.0" fill="none" stroke="#FF0000" stroke-width="1.7" stroke-linecap="butt" stroke-linejoin="round"/>
<path d="M446.00,186.00 L446.49,184.43 L446.97,182.86 L447.46,181.29 L447.95,179.72 L448.44,178.16 L448.93,176.59 L449.42,175.02 L449.91,173.46 L450.40,171.89 L450.90,170.32 L451.39,168.76 L451.89,167.19 L452.39,165.63 L452.90,164.06 L453.40,162.50" fill="none" stroke="#FF0000" stroke-width="1.7" stroke-linecap="butt" stroke-linejoin="round"/>
<path d="M455.50,158.50 L456.89,157.31 L458.32,156.16 L459.78,155.06 L461.26,154.01 L462.78,153.01 L464.35,152.10 L466.00,151.30" fill="none" stroke="#FF0000" stroke-width="1.7" stroke-linecap="butt" stroke-linejoin="round"/>
<path d="M375.60,275.20 L376.69,274.00 L377.78,272.80 L378.86,271.60 L379.95,270.40 L381.03,269.20 L382.11,267.99 L383.19,266.79 L384.27,265.58 L385.34,264.37 L386.42,263.16 L387.49,261.95 L388.56,260.73 L389.63,259.52 L390.70,258.30" fill="none" stroke="#E46C0A" stroke-width="1.7" stroke-linecap="butt" stroke-linejoin="round"/>
<path d="M397.5,247.9 L410.0,231.3" fill="none" stroke="#E46C0A" stroke-width="1.7" stroke-linecap="butt" stroke-linejoin="round"/>
<path d="M418.2,218.9 L430.6,201.6" fill="none" stroke="#E46C0A" stroke-width="1.7" stroke-linecap="butt" stroke-linejoin="round"/>
<path d="M441.50,182.50 L442.43,181.07 L443.38,179.65 L444.33,178.23 L445.29,176.82 L446.26,175.42 L447.24,174.03 L448.23,172.64 L449.23,171.25 L450.24,169.87 L451.25,168.50" fill="none" stroke="#E46C0A" stroke-width="1.7" stroke-linecap="butt" stroke-linejoin="round"/>
<path d="M453.0,161.8 L459.0,155.5" fill="none" stroke="#E46C0A" stroke-width="1.7" stroke-linecap="butt" stroke-linejoin="round"/>
<path d="M481.20,147.80 L482.88,147.44 L484.54,147.30 L486.19,147.31 L487.81,147.78 L489.41,148.50 L491.00,148.91 L492.57,148.63 L494.07,147.90 L495.51,146.86 L496.79,145.67 L497.83,144.39 L498.67,142.98 L499.40,141.40" fill="none" stroke="#E46C0A" stroke-width="1.7" stroke-linecap="butt" stroke-linejoin="round"/>
<path d="M504.2,129.7 L509.3,112.0" fill="none" stroke="#E46C0A" stroke-width="1.7" stroke-linecap="butt" stroke-linejoin="round"/>
<path d="M515.8,113.9 L520.4,137.0" fill="none" stroke="#E46C0A" stroke-width="1.7" stroke-linecap="butt" stroke-linejoin="round"/>
<path d="M530.00,144.00 L531.41,144.92 L532.87,145.64 L534.38,146.23 L535.98,146.71 L537.65,146.95 L539.29,146.80 L540.78,146.17 L542.12,145.23 L543.35,144.09 L544.48,142.84 L545.47,141.54 L546.34,140.18 L547.10,138.70" fill="none" stroke="#E46C0A" stroke-width="1.7" stroke-linecap="butt" stroke-linejoin="round"/>
<path d="M551.90,126.70 L552.07,125.02 L552.33,123.38 L552.67,121.78 L553.08,120.20 L553.57,118.62 L554.13,117.03 L554.81,115.44 L555.67,113.96 L556.70,112.80 L558.22,113.24 L559.45,114.57 L560.27,115.95 L560.80,117.60" fill="none" stroke="#E46C0A" stroke-width="1.7" stroke-linecap="butt" stroke-linejoin="round"/>
<path d="M562.60,130.10 L562.76,131.80 L563.05,133.42 L563.51,134.99 L564.15,136.50 L564.97,137.94 L565.94,139.27 L567.06,140.48 L568.31,141.59 L569.62,142.57 L570.98,143.46 L572.41,144.25 L573.92,144.96 L575.50,145.60" fill="none" stroke="#E46C0A" stroke-width="1.7" stroke-linecap="butt" stroke-linejoin="round"/>
<path d="M586.70,151.00 L587.24,149.11 L588.03,147.61 L589.31,146.73 L590.95,146.37 L592.61,146.22 L594.26,146.20 L595.91,146.53 L597.55,146.79 L599.05,146.11 L600.16,144.83 L601.08,143.38 L601.80,141.90 L602.30,140.30" fill="none" stroke="#E46C0A" stroke-width="1.7" stroke-linecap="butt" stroke-linejoin="round"/>
<path d="M604.40,127.70 L604.54,126.09 L604.68,124.48 L604.82,122.87 L604.97,121.26 L605.13,119.65 L605.29,118.04 L605.45,116.43 L605.62,114.83 L605.80,113.22 L605.98,111.61 L606.16,110.01 L606.36,108.40 L606.58,106.80 L606.80,105.20" fill="none" stroke="#E46C0A" stroke-width="1.7" stroke-linecap="butt" stroke-linejoin="round"/>
<path d="M608.70,93.40 L608.88,91.68 L609.23,90.06 L609.80,88.49 L610.69,86.82 L611.73,86.52 L612.53,88.15 L613.13,89.82 L613.60,91.45 L613.97,93.08 L614.24,94.72 L614.43,96.38 L614.55,98.07 L614.60,99.80" fill="none" stroke="#E46C0A" stroke-width="1.7" stroke-linecap="butt" stroke-linejoin="round"/>
<path d="M621.60,109.50 L623.20,110.13 L624.67,110.87 L626.02,111.75 L627.21,112.80 L628.20,114.04 L629.00,115.41 L629.77,116.84 L630.67,118.25 L631.80,119.54 L633.01,120.65 L634.26,121.47 L635.53,121.20 L636.81,119.90 L638.10,118.00" fill="none" stroke="#E46C0A" stroke-width="1.7" stroke-linecap="butt" stroke-linejoin="round"/>
<path d="M375.60,275.20 L376.82,274.28 L378.03,273.37 L379.24,272.45 L380.45,271.52 L381.66,270.60 L382.86,269.66 L384.05,268.72 L385.24,267.77 L386.42,266.81 L387.60,265.84 L388.76,264.86 L389.91,263.87 L391.05,262.86 L392.18,261.84 L393.30,260.80 L394.40,259.75 L395.49,258.68 L396.55,257.60 L397.61,256.49 L398.64,255.38 L399.65,254.24 L400.65,253.09 L401.62,251.92 L402.57,250.74 L403.51,249.54 L404.42,248.32 L405.32,247.09 L406.20,245.85 L407.07,244.59 L407.92,243.33 L408.76,242.06 L409.58,240.77 L410.39,239.48 L411.19,238.18 L411.98,236.88 L412.75,235.57 L413.52,234.26 L414.28,232.94 L415.03,231.62 L415.78,230.29 L416.51,228.96 L417.25,227.63 L417.98,226.29 L418.70,224.95 L419.42,223.61 L420.14,222.27 L420.86,220.93 L421.57,219.59 L422.29,218.25 L423.00,216.90 L423.72,215.56 L424.44,214.22 L425.16,212.88 L425.89,211.55 L426.62,210.21 L427.35,208.88 L428.09,207.55 L428.83,206.22 L429.58,204.89 L430.33,203.57 L431.08,202.25 L431.83,200.93 L432.59,199.61 L433.36,198.29 L434.12,196.98 L434.90,195.67 L435.67,194.36 L436.45,193.05 L437.23,191.75 L438.02,190.44 L438.81,189.14 L439.60,187.85 L440.40,186.55 L441.20,185.25 L442.00,183.96 L442.80,182.67 L443.61,181.38 L444.41,180.09 L445.22,178.80 L446.03,177.52 L446.85,176.23 L447.66,174.94 L448.47,173.66 L449.29,172.37 L450.10,171.09 L450.91,169.80 L451.72,168.51 L452.54,167.23 L453.35,165.94 L454.16,164.65 L454.97,163.36 L455.77,162.07 L456.58,160.78 L457.38,159.49 L458.19,158.20 L458.99,156.91 L459.79,155.61 L460.59,154.32 L461.39,153.03 L462.19,151.73 L462.99,150.44 L463.78,149.14 L464.58,147.85 L465.38,146.55 L466.17,145.25 L466.97,143.96 L467.76,142.66 L468.56,141.36 L469.35,140.06 L470.14,138.77 L470.94,137.47 L471.73,136.17 L472.52,134.87 L473.32,133.57 L474.11,132.28 L474.90,130.98 L475.70,129.68 L476.49,128.38 L477.28,127.08 L478.08,125.79 L478.87,124.49 L479.66,123.19 L480.45,121.89 L481.25,120.59 L482.04,119.29 L482.83,117.99 L483.62,116.70 L484.42,115.40 L485.21,114.10 L486.00,112.80" fill="none" stroke="#31859C" stroke-width="1.7" stroke-linecap="butt" stroke-linejoin="round"/>
<path d="M486.00,112.80 L486.86,114.05 L487.70,115.31 L488.54,116.57 L489.37,117.83 L490.21,119.10 L491.04,120.36 L491.83,121.66 L492.47,123.06 L493.24,124.37 L494.42,125.28 L495.93,124.97 L497.45,124.50 L498.92,124.11 L500.40,123.78 L501.88,123.70 L503.36,123.98 L504.82,124.51 L506.26,125.11 L507.67,125.72 L509.05,126.32 L510.43,126.94 L511.80,127.55 L513.18,128.17 L514.55,128.80 L515.93,129.44 L517.30,130.08 L518.70,130.69 L520.17,131.16 L521.66,131.44 L523.12,131.46 L524.54,131.03 L525.92,130.22 L527.23,129.21 L528.34,128.15 L529.26,126.99 L530.01,125.69 L530.66,124.29 L531.29,122.90 L531.87,121.50 L532.42,120.09 L532.93,118.67 L533.39,117.23 L533.80,115.78 L534.17,114.31 L534.52,112.84 L534.87,111.36 L535.22,109.89 L535.57,108.42 L535.91,106.94 L536.25,105.47 L536.59,103.99 L536.93,102.52 L537.27,101.04 L537.60,99.56 L537.92,98.08 L538.23,96.60 L538.53,95.12 L538.83,93.63 L539.14,92.15 L539.45,90.67 L539.81,89.14 L540.31,87.51 L541.00,86.05 L541.88,85.11 L543.04,85.69 L544.20,87.02 L545.17,88.19 L546.11,89.38 L547.07,90.54 L548.13,91.62 L549.26,92.63 L550.43,93.59 L551.63,94.51 L552.86,95.40 L554.12,96.25 L555.41,97.03 L556.72,97.78 L558.05,98.53 L559.54,99.09 L560.79,99.23 L561.91,98.03 L563.02,96.62 L564.15,96.45 L565.28,97.65 L566.41,99.09 L567.54,99.57 L568.69,98.72 L569.85,97.24 L571.02,95.84 L572.18,95.26 L573.29,95.91 L574.33,97.20 L575.37,98.54 L576.47,99.39 L577.99,99.66 L579.36,99.05 L580.60,98.18 L581.75,97.16 L582.77,96.06 L583.73,94.92 L584.77,93.80 L585.95,92.73 L587.22,91.75 L588.53,91.03 L589.87,90.79 L591.29,91.35 L592.65,92.32 L593.82,93.33 L594.84,94.40 L595.74,95.62 L596.62,96.86 L597.49,98.10 L598.35,99.35 L599.18,100.60 L600.00,101.88 L600.80,103.16 L601.58,104.46 L602.34,105.77 L603.10,107.08 L603.86,108.39 L604.62,109.70 L605.39,111.00 L606.18,112.30 L606.99,113.58 L607.81,114.85 L608.65,116.11 L609.50,117.36 L610.38,118.60 L611.27,119.82 L612.19,121.02 L613.15,122.18 L614.15,123.31 L615.18,124.44 L616.24,125.65 L617.34,126.84 L618.43,127.53 L619.47,126.88 L620.43,125.31 L621.28,123.81 L621.97,122.41 L622.54,121.01 L623.05,119.61 L623.57,118.22 L624.18,116.84 L624.89,115.49 L625.66,114.18 L626.48,112.91 L627.35,111.67 L628.64,110.92 L630.26,110.56 L631.30,109.57 L631.83,108.13 L632.23,106.67 L632.52,105.19 L632.77,103.69 L632.97,102.19 L633.10,100.69 L633.19,99.18 L633.27,97.67 L633.38,96.16 L633.56,94.65 L633.82,93.15 L634.34,91.58 L635.29,90.67 L636.51,91.60 L637.56,92.89 L638.43,94.15 L639.22,95.44 L640.04,96.70 L640.98,97.87 L642.08,98.92 L643.26,99.88 L644.50,100.74 L645.81,101.52 L647.17,102.18 L648.60,102.70" fill="none" stroke="#31859C" stroke-width="1.7" stroke-linecap="butt" stroke-linejoin="round"/>
<path d="M375.60,275.20 L376.85,274.35 L378.09,273.49 L379.33,272.62 L380.55,271.74 L381.77,270.85 L382.99,269.96 L384.20,269.06 L385.40,268.15 L386.60,267.23 L387.79,266.31 L388.98,265.38 L390.17,264.45 L391.35,263.51 L392.53,262.57 L393.71,261.62 L394.87,260.66 L396.02,259.69 L397.16,258.71 L398.30,257.72 L399.42,256.71 L400.53,255.70 L401.64,254.67 L402.73,253.63 L403.82,252.58 L404.90,251.51 L405.97,250.43 L407.02,249.34 L408.06,248.23 L409.07,247.10 L410.07,245.97 L411.04,244.81 L411.99,243.64 L412.92,242.45 L413.82,241.24 L414.69,240.01 L415.54,238.76 L416.37,237.49 L417.17,236.20 L417.95,234.91 L418.74,233.61 L419.51,232.32 L420.28,231.02 L421.04,229.71 L421.80,228.41 L422.55,227.10 L423.29,225.79 L424.03,224.47 L424.76,223.16 L425.48,221.83 L426.20,220.51 L426.91,219.18 L427.62,217.85 L428.32,216.51 L429.01,215.17 L429.70,213.83 L430.39,212.48 L431.08,211.14 L431.77,209.80 L432.46,208.46 L433.15,207.11 L433.83,205.77 L434.52,204.43 L435.20,203.08 L435.88,201.73 L436.56,200.39 L437.24,199.04 L437.91,197.69 L438.57,196.33 L439.23,194.98 L439.89,193.62 L440.54,192.26 L441.18,190.89 L441.82,189.52 L442.46,188.15 L443.09,186.78 L443.72,185.41 L444.35,184.04 L444.97,182.67 L445.60,181.30 L446.22,179.92 L446.84,178.55 L447.46,177.17 L448.08,175.80 L448.70,174.42 L449.31,173.04 L449.93,171.66 L450.54,170.28 L451.15,168.91 L451.77,167.53 L452.37,166.14 L452.98,164.76 L453.58,163.38 L454.17,161.99 L454.75,160.60 L455.33,159.20 L455.89,157.80 L456.45,156.40 L456.99,154.99 L457.53,153.58 L458.06,152.17 L458.59,150.76 L459.11,149.34 L459.62,147.92 L460.13,146.50 L460.63,145.08 L461.13,143.65 L461.63,142.23 L462.12,140.80 L462.61,139.37 L463.10,137.95 L463.60,136.52 L464.10,135.10 L464.62,133.68 L465.13,132.27 L465.65,130.85 L466.18,129.43 L466.70,128.02 L467.22,126.60 L467.75,125.19 L468.27,123.77 L468.77,122.35 L469.28,120.93 L469.78,119.51 L470.29,118.09 L470.81,116.67 L471.40,115.29 L472.04,113.92 L472.71,112.58 L473.42,111.24 L474.14,109.90 L474.92,108.61 L475.84,107.43 L476.89,106.32 L478.17,105.18 L479.70,104.58 L480.73,105.41 L481.58,106.63 L482.38,107.95 L483.20,109.27 L484.13,110.47 L485.09,111.62 L486.06,112.76 L487.04,113.91 L488.03,115.05 L489.03,116.19 L490.04,117.32 L491.05,118.48 L492.05,119.71 L493.09,120.87 L494.25,121.83 L495.58,122.47 L497.04,122.85 L498.50,123.21 L499.97,123.58 L501.43,123.94 L502.90,124.30 L504.36,124.66 L505.83,125.02 L507.29,125.38 L508.76,125.75 L510.22,126.11 L511.72,126.47 L513.26,126.65 L514.75,126.29 L515.91,125.26 L516.64,123.93 L517.21,122.49 L517.91,121.15 L518.83,119.99 L519.76,118.84 L520.71,117.71 L521.73,116.61 L522.87,115.54 L524.13,114.51 L525.48,113.67 L526.87,113.06 L528.29,112.73 L529.74,112.73 L531.24,113.05 L532.69,113.64 L534.01,114.42 L535.25,115.27 L536.52,116.07 L537.86,116.79 L539.21,117.46 L540.58,118.10 L541.96,118.71 L543.35,119.28 L544.77,119.72 L546.29,119.70 L547.86,119.41 L549.44,119.11 L550.96,119.03 L552.37,119.43 L553.52,120.38 L554.43,121.57 L555.42,122.75 L556.65,123.80 L557.90,124.80 L559.15,125.44 L560.41,125.35 L561.68,124.49 L562.94,123.26 L564.11,122.03 L565.06,120.81 L565.83,119.56 L566.46,118.25 L566.99,116.85 L567.48,115.42 L567.95,113.98 L568.40,112.54 L568.83,111.10 L569.24,109.65 L569.64,108.19 L570.02,106.73 L570.36,105.27 L570.65,103.79 L570.93,102.32 L571.24,100.84 L571.64,99.36 L572.15,97.56 L572.74,95.77 L573.40,94.81 L574.09,95.18 L574.80,96.32 L575.53,97.88 L576.27,99.56 L577.01,101.03 L577.77,102.30 L578.57,103.58 L579.44,104.83 L580.43,106.02 L581.56,107.05 L582.82,107.91 L584.18,108.62 L585.60,109.18 L587.07,109.60 L588.54,109.96 L590.01,110.26 L591.49,110.54 L592.98,110.80 L594.48,111.11 L596.00,111.46 L597.51,111.72 L599.00,111.76 L600.45,111.47 L601.86,110.97 L603.25,110.35 L604.62,109.69 L605.99,109.04 L607.37,108.45 L608.78,107.91 L610.20,107.39 L611.62,106.88 L613.03,106.35 L614.43,105.77 L615.52,104.88 L616.11,103.46 L616.64,101.92 L617.57,100.65 L618.97,99.89 L620.01,100.19 L620.70,101.84 L621.59,103.32 L623.03,103.45 L624.53,103.18 L626.03,102.99 L627.52,103.07 L629.02,103.19 L630.52,103.48 L631.98,103.97 L633.36,104.59 L634.72,105.24 L636.09,105.85 L637.51,106.32 L638.95,106.74 L640.40,107.14 L641.86,107.51 L643.33,107.86 L644.81,108.17 L646.30,108.45 L647.80,108.70" fill="none" stroke="#77933C" stroke-width="1.55" stroke-linecap="butt" stroke-linejoin="round" stroke-dasharray="2.7 1.75" stroke-dashoffset="0"/>
<path d="M481.20,151.00 L482.91,150.63 L484.47,150.61 L485.88,150.95 L487.16,151.62 L488.32,152.56 L489.37,153.79 L490.30,155.30" fill="none" stroke="#FF0000" stroke-width="1.7" stroke-linecap="butt" stroke-linejoin="round"/>
<path d="M495.10,152.10 L496.41,150.82 L497.69,149.95 L498.95,149.48 L500.18,149.42 L501.39,149.82 L502.56,150.71 L503.70,152.10" fill="none" stroke="#FF0000" stroke-width="1.7" stroke-linecap="butt" stroke-linejoin="round"/>
<path d="M509.60,155.30 L511.28,155.09 L512.77,154.63 L514.08,153.93 L515.20,153.00 L516.17,151.84 L516.96,150.48 L517.60,148.90" fill="none" stroke="#FF0000" stroke-width="1.7" stroke-linecap="butt" stroke-linejoin="round"/>
<path d="M522.40,144.00 L523.85,144.49 L525.17,145.14 L526.37,145.93 L527.44,146.87 L528.41,147.95 L529.26,149.16 L530.00,150.50" fill="none" stroke="#FF0000" stroke-width="1.7" stroke-linecap="butt" stroke-linejoin="round"/>
<path d="M537.00,151.50 L538.45,151.29 L539.81,150.89 L541.08,150.30 L542.27,149.58 L543.41,148.74 L544.48,147.78 L545.50,146.70" fill="none" stroke="#FF0000" stroke-width="1.7" stroke-linecap="butt" stroke-linejoin="round"/>
<path d="M551.40,150.70 L552.82,151.17 L554.20,151.38 L555.53,151.33 L556.82,151.03 L558.08,150.53 L559.31,149.82 L560.50,148.90" fill="none" stroke="#FF0000" stroke-width="1.7" stroke-linecap="butt" stroke-linejoin="round"/>
<path d="M564.80,153.10 L566.00,154.45 L567.26,155.39 L568.58,155.92 L569.96,156.05 L571.38,155.80 L572.87,155.18 L574.40,154.20" fill="none" stroke="#FF0000" stroke-width="1.7" stroke-linecap="butt" stroke-linejoin="round"/>
<path d="M579.2,149.4 L585.1,140.8" fill="none" stroke="#FF0000" stroke-width="1.7" stroke-linecap="butt" stroke-linejoin="round"/>
<path d="M588.80,135.20 L590.31,135.71 L591.27,137.01 L592.00,138.43 L592.55,139.94 L593.03,141.46 L593.42,143.00 L593.70,144.60" fill="none" stroke="#FF0000" stroke-width="1.7" stroke-linecap="butt" stroke-linejoin="round"/>
<path d="M598.00,145.60 L598.64,147.54 L599.35,148.90 L600.12,149.69 L600.96,149.90 L601.87,149.48 L602.85,148.41 L603.90,146.70" fill="none" stroke="#FF0000" stroke-width="1.7" stroke-linecap="butt" stroke-linejoin="round"/>
<path d="M610.30,147.80 L612.06,147.63 L613.57,147.85 L614.85,148.46 L615.95,149.38 L616.89,150.56 L617.68,152.00 L618.30,153.70" fill="none" stroke="#FF0000" stroke-width="1.7" stroke-linecap="butt" stroke-linejoin="round"/>
<path d="M624.20,149.40 L625.45,150.09 L626.67,150.84 L627.85,151.63 L628.99,152.47 L630.10,153.36 L631.17,154.31 L632.20,155.30" fill="none" stroke="#FF0000" stroke-width="1.7" stroke-linecap="butt" stroke-linejoin="round"/>
<path d="M638.70,153.50 L640.26,153.07 L641.75,152.91 L643.18,153.03 L644.54,153.42 L645.85,154.04 L647.10,154.90 L648.30,156.00" fill="none" stroke="#FF0000" stroke-width="1.7" stroke-linecap="butt" stroke-linejoin="round"/>
<line x1="453.8" y1="158" x2="453.8" y2="275.65" stroke="#FF0000" stroke-width="1.65"/>
<line x1="473" y1="143.5" x2="473" y2="275.65" stroke="#77933C" stroke-width="1.8"/>
<line x1="493.5" y1="148.9" x2="493.5" y2="275.65" stroke="#E46C0A" stroke-width="1.45"/>
<line x1="477" y1="104.4" x2="464.1" y2="104.3" stroke="#9BBB59" stroke-width="1.6"/><polygon points="455.8,104.2 465.1,100.7 465.1,107.9" fill="#9BBB59"/>
<line x1="483.2" y1="114" x2="464.4" y2="120.9" stroke="#4BACC6" stroke-width="1.6"/><polygon points="456.6,123.8 464.1,117.2 466.6,124.0" fill="#4BACC6"/>
<line x1="465.6" y1="149.3" x2="446.2" y2="142.7" stroke="#FF0000" stroke-width="1.6"/><polygon points="438.3,140.0 448.3,139.6 445.9,146.4" fill="#FF0000"/>
<line x1="511.7" y1="112" x2="519.5" y2="160.0" stroke="#E46C0A" stroke-width="1.6"/><polygon points="520.9,168.9 515.8,159.6 522.9,158.5" fill="#E46C0A"/>
<circle cx="480.2" cy="104.8" r="3.1" fill="none" stroke="#9BBB59" stroke-width="1.4"/>
<circle cx="486" cy="112.8" r="3.1" fill="none" stroke="#4BACC6" stroke-width="1.4"/>
<circle cx="468.3" cy="150.5" r="3.1" fill="none" stroke="#FF0000" stroke-width="1.4"/>
<circle cx="511.2" cy="108.6" r="3.2" fill="none" stroke="#E46C0A" stroke-width="1.4"/>
<text x="448.9" y="110.0" font-size="14.3" text-anchor="middle" font-weight="bold" style="stroke-width:0.12px">F</text>
<text x="447.6" y="129.7" font-size="14.3" text-anchor="middle" font-weight="bold" style="stroke-width:0.12px">G</text>
<text x="429.2" y="144.4" font-size="14.3" text-anchor="middle" textLength="10.2" lengthAdjust="spacingAndGlyphs" font-weight="bold" style="stroke-width:0.12px">H</text>
<text x="526.5" y="181.0" font-size="14.3" text-anchor="middle" textLength="8.6" lengthAdjust="spacingAndGlyphs" font-weight="bold" style="stroke-width:0.12px">E</text>
<text x="583.3" y="170.0" font-size="14.2" text-anchor="start" textLength="109.4" lengthAdjust="spacingAndGlyphs" >Hawkeye detection</text>
<text x="614.8" y="186.7" font-size="14.2" text-anchor="start" textLength="46.6" lengthAdjust="spacingAndGlyphs" >distance</text>
<text x="472.6" y="307.9" font-size="14.2" text-anchor="start" textLength="109.3" lengthAdjust="spacingAndGlyphs" >Number of shelters</text>
<text x="439.3" y="323.4" font-size="14.2" text-anchor="start" textLength="149.5" lengthAdjust="spacingAndGlyphs" >(b) Detection distance test</text>
<text transform="translate(340.1,147) rotate(-90)" font-size="14.3" text-anchor="middle" textLength="126" lengthAdjust="spacingAndGlyphs">Detection distance /m</text>
</svg>
</body></html>
